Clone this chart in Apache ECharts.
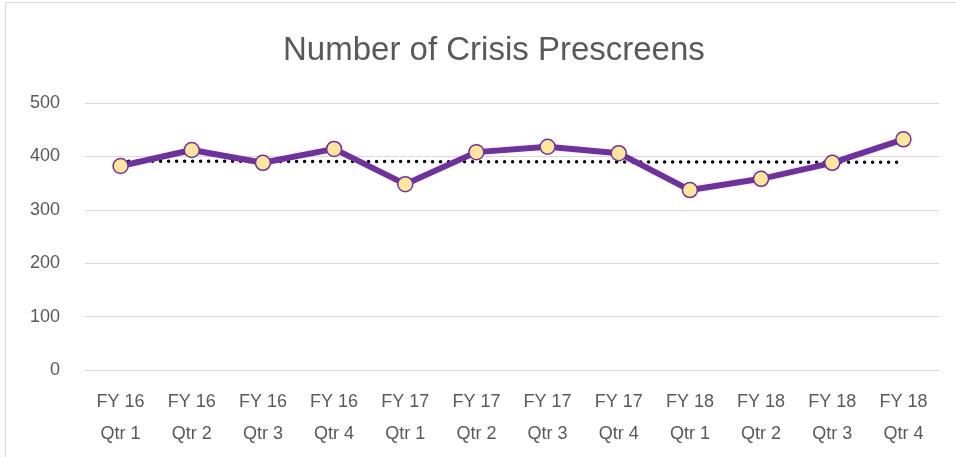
<!DOCTYPE html>
<html>
<head>
<meta charset="utf-8">
<script src="https://cdn.jsdelivr.net/npm/echarts@6/dist/echarts.min.js"></script>
<style>
  html, body { margin: 0; padding: 0; background: #fff; overflow: hidden; }
  #frame { position: absolute; left: 5px; top: 2px; width: 970px; height: 470px; border: 1px solid #d9d9d9; }
  #chart { position: absolute; left: 0; top: 0; width: 956px; height: 457px; }
</style>
</head>
<body>
<div id="frame"></div>
<div id="chart"></div>
<script>
// categories (two-line labels)
var quarters = ['FY 16\nQtr 1', 'FY 16\nQtr 2', 'FY 16\nQtr 3', 'FY 16\nQtr 4',
  'FY 17\nQtr 1', 'FY 17\nQtr 2', 'FY 17\nQtr 3', 'FY 17\nQtr 4',
  'FY 18\nQtr 1', 'FY 18\nQtr 2', 'FY 18\nQtr 3', 'FY 18\nQtr 4'];
// prescreen counts
var prescreens = [382, 412, 388, 414, 348, 408, 418, 406, 337, 358, 388, 432];
// trendline end values (first and last quarter)
var trendEnds = [391, 389];

var trend = quarters.map(function (q, i) {
  if (i === 0) return trendEnds[0];
  if (i === quarters.length - 1) return trendEnds[1];
  return null;
});

var myChart = echarts.init(document.getElementById('chart'));

var option = {
  animation: false,
  title: {
    text: 'Number of Crisis Prescreens',
    left: 278,
    top: 29,
    textStyle: { fontFamily: 'Liberation Sans', fontSize: 33, fontWeight: 'normal', color: '#595959' }
  },
  grid: { left: 85, right: 17, top: 103, bottom: 87 },
  xAxis: {
    type: 'category',
    data: quarters,
    boundaryGap: true,
    axisLine: { lineStyle: { color: '#d9d9d9' } },
    axisTick: { show: false },
    axisLabel: {
      color: '#595959', fontSize: 18, fontFamily: 'Liberation Sans',
      lineHeight: 32, margin: 16, interval: 0
    }
  },
  yAxis: {
    type: 'value',
    min: 0,
    max: 500,
    interval: 100,
    axisLine: { show: false },
    axisTick: { show: false },
    axisLabel: { color: '#595959', fontSize: 18, fontFamily: 'Liberation Sans', margin: 25 },
    splitLine: { lineStyle: { color: '#d9d9d9', width: 1 } }
  },
  series: [
    {
      name: 'Trend',
      type: 'line',
      data: trend,
      connectNulls: true,
      symbol: 'none',
      lineStyle: { color: '#000', width: 3.5, type: [0, 8], cap: 'round' },
      z: 1
    },
    {
      name: 'Prescreens',
      type: 'line',
      data: prescreens,
      symbol: 'circle',
      symbolSize: 15,
      lineStyle: { color: '#7030A0', width: 6 },
      itemStyle: { color: '#FFE699', borderColor: '#7030A0', borderWidth: 1.5 },
      z: 2
    }
  ]
};

myChart.setOption(option);
</script>
</body>
</html>
